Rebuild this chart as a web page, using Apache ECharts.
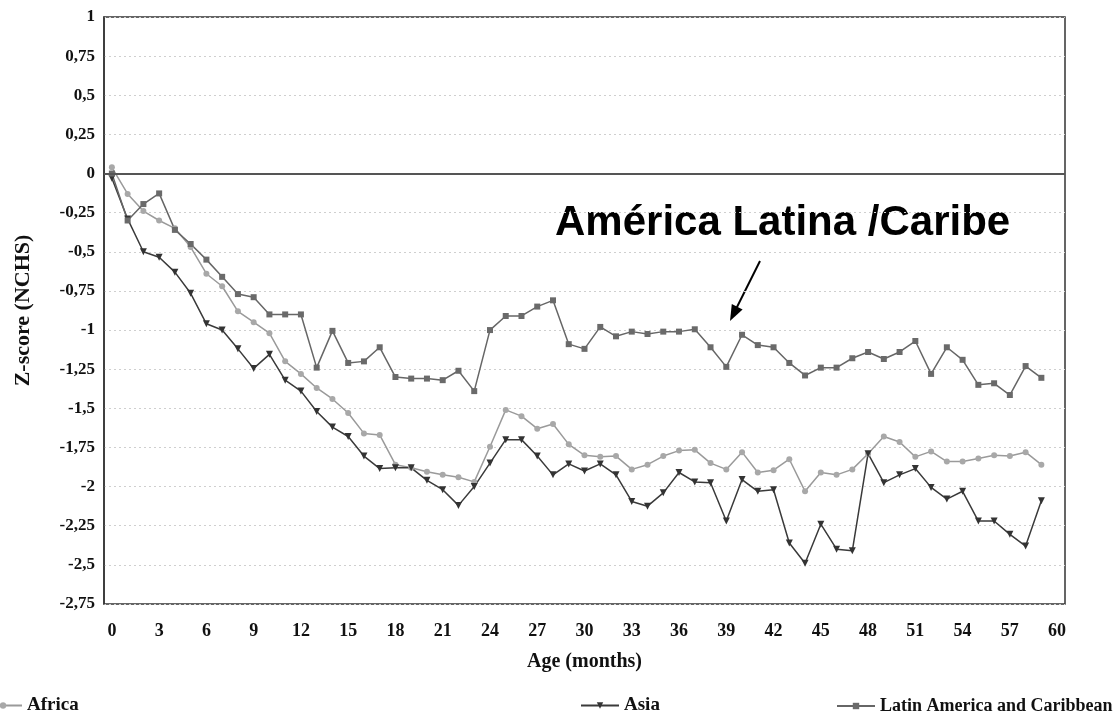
<!DOCTYPE html>
<html>
<head>
<meta charset="utf-8">
<script src="https://cdn.jsdelivr.net/npm/echarts@6/dist/echarts.min.js"></script>
<style>
html,body{margin:0;padding:0;background:#fff;}
#chart{width:1114px;height:725px;}
</style>
</head>
<body>
<div id="chart"></div>
<script>
// Age in months (categories 0..60; data for 0..59)
var months = [];
for (var i = 0; i <= 60; i++) months.push(String(i));

var africa = [0.04,-0.13,-0.24,-0.30,-0.35,-0.47,-0.64,-0.72,-0.88,-0.95,
  -1.02,-1.20,-1.28,-1.37,-1.44,-1.53,-1.66,-1.67,-1.86,-1.88,
  -1.905,-1.925,-1.94,-1.97,-1.745,-1.51,-1.55,-1.63,-1.60,-1.73,
  -1.80,-1.81,-1.805,-1.89,-1.86,-1.805,-1.77,-1.765,-1.85,-1.89,
  -1.78,-1.91,-1.895,-1.825,-2.03,-1.91,-1.925,-1.89,-1.79,-1.68,
  -1.715,-1.81,-1.775,-1.84,-1.84,-1.82,-1.80,-1.805,-1.78,-1.86];

var asia = [-0.03,-0.29,-0.50,-0.535,-0.63,-0.765,-0.96,-1.0,-1.12,-1.245,
  -1.155,-1.32,-1.39,-1.52,-1.62,-1.68,-1.805,-1.885,-1.88,-1.88,
  -1.96,-2.02,-2.12,-2.0,-1.85,-1.70,-1.70,-1.805,-1.925,-1.855,
  -1.90,-1.855,-1.925,-2.095,-2.125,-2.04,-1.91,-1.97,-1.975,-2.22,
  -1.955,-2.03,-2.02,-2.36,-2.49,-2.24,-2.40,-2.41,-1.79,-1.975,
  -1.925,-1.885,-2.005,-2.08,-2.03,-2.22,-2.22,-2.305,-2.38,-2.09];

var latin = [0.0,-0.30,-0.195,-0.127,-0.36,-0.45,-0.55,-0.66,-0.77,-0.79,
  -0.90,-0.90,-0.90,-1.24,-1.005,-1.21,-1.20,-1.11,-1.30,-1.31,
  -1.31,-1.32,-1.26,-1.39,-1.0,-0.91,-0.91,-0.85,-0.81,-1.09,
  -1.12,-0.98,-1.04,-1.01,-1.025,-1.01,-1.01,-0.995,-1.11,-1.235,
  -1.03,-1.096,-1.11,-1.21,-1.29,-1.24,-1.24,-1.18,-1.14,-1.185,
  -1.14,-1.07,-1.28,-1.11,-1.19,-1.35,-1.34,-1.415,-1.23,-1.305];

var yMin = -2.75, yMax = 1, yStep = 0.25;
var seriesNames = ['Africa', 'Asia', 'Latin America and Caribbean'];
var annotationText = 'América Latina /Caribe';

var serif = '"Liberation Serif","DejaVu Serif",serif';
var chart = echarts.init(document.getElementById('chart'));

var legendText = {fontFamily: serif, fontWeight: 'bold', fontSize: 19, color: '#111'};
var legendTextSmall = {fontFamily: serif, fontWeight: 'bold', fontSize: 18, color: '#111'};

chart.setOption({
  animation: false,
  backgroundColor: '#fff',
  grid: {left: 104, right: 49, top: 17, bottom: 121, show: true,
         borderColor: '#333', borderWidth: 1.5, backgroundColor: 'transparent'},
  legend: [
    {data: [seriesNames[0]], left: -22, top: 691, itemWidth: 38, itemHeight: 8, itemGap: 6, textStyle: legendText},
    {data: [seriesNames[1]], left: 575, top: 691, itemWidth: 38, itemHeight: 8, textStyle: legendText},
    {data: [seriesNames[2]], left: 831, top: 692, itemWidth: 38, itemHeight: 8, textStyle: legendTextSmall}
  ],
  xAxis: {
    type: 'category', data: months, boundaryGap: true,
    axisLine: {show: false}, axisTick: {show: false},
    axisLabel: {interval: 2, margin: 18, fontFamily: serif, fontWeight: 'bold', fontSize: 18, color: '#111'},
    name: 'Age (months)', nameLocation: 'middle', nameGap: 48,
    nameTextStyle: {fontFamily: serif, fontWeight: 'bold', fontSize: 20, color: '#111'},
    splitLine: {show: false}
  },
  yAxis: {
    type: 'value', min: yMin, max: yMax, interval: yStep,
    axisLine: {show: true, lineStyle: {color: '#333', width: 1.5}}, axisTick: {show: false},
    axisLabel: {margin: 9, fontFamily: serif, fontWeight: 'bold', fontSize: 17, color: '#111',
      formatter: function (v) { return String(Math.round(v * 100) / 100).replace('.', ','); }},
    splitLine: {show: true, lineStyle: {color: '#cfcfcf', type: [2, 3], width: 1}},
    name: 'Z-score (NCHS)', nameLocation: 'middle', nameGap: 70, nameRotate: 90,
    nameTextStyle: {fontFamily: serif, fontWeight: 'bold', fontSize: 22, color: '#111'}
  },
  series: [
    {name: seriesNames[0], type: 'line', data: africa, symbol: 'circle', symbolSize: 6,
     lineStyle: {color: '#9a9a9a', width: 1.5}, itemStyle: {color: '#a8a8a8'},
     markLine: {silent: true, symbol: 'none', label: {show: false},
       lineStyle: {color: '#555', width: 2, type: 'solid'}, data: [{yAxis: 0}]}},
    {name: seriesNames[1], type: 'line', data: asia, symbol: 'triangle', symbolRotate: 180, symbolSize: 7,
     lineStyle: {color: '#3a3a3a', width: 1.5}, itemStyle: {color: '#333'}},
    {name: seriesNames[2], type: 'line', data: latin, symbol: 'rect', symbolSize: 6,
     lineStyle: {color: '#666', width: 1.5}, itemStyle: {color: '#6a6a6a'}}
  ],
  graphic: [
    {type: 'text', left: 555, top: 202, style: {text: annotationText, fill: '#000',
      font: 'bold 42px "Liberation Sans", Arial, sans-serif'}},
    {type: 'line', shape: {x1: 760, y1: 261, x2: 735, y2: 311}, style: {stroke: '#000', lineWidth: 2}},
    {type: 'polygon', shape: {points: [[730, 321], [742.6, 309.4], [731.8, 304]]}, style: {fill: '#000'}}
  ]
});
</script>
</body>
</html>
